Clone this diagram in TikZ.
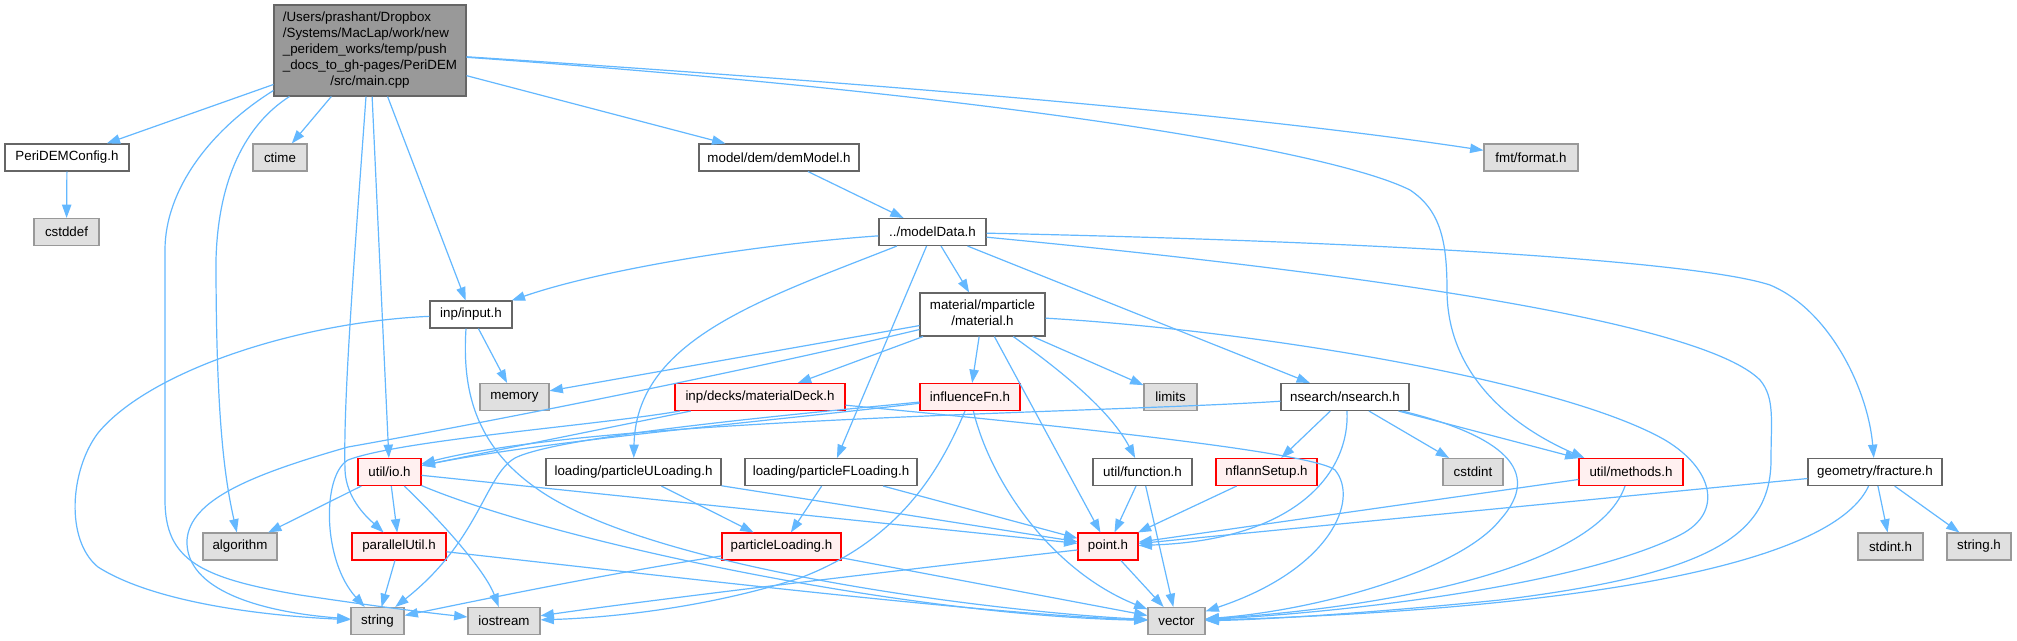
\documentclass[tikz,border=0pt]{standalone}
\usepackage{fontspec}
\setmainfont{Liberation Sans}
\usetikzlibrary{arrows.meta,calc}
\definecolor{edgec}{HTML}{63B8FF}
\definecolor{bordc}{HTML}{666666}
\definecolor{greyb}{HTML}{999999}
\definecolor{greyf}{HTML}{E0E0E0}
\definecolor{mainf}{HTML}{999999}
\definecolor{redf}{HTML}{FFF0F0}
\definecolor{redb}{HTML}{FF0000}
\begin{document}
\begin{tikzpicture}[x=0.75pt,y=-0.75pt,
  box/.style={rectangle, draw, line width=0.8pt, inner sep=0pt, minimum height=27*0.75pt, font=\fontsize{10}{12}\selectfont, text=black},
  wbox/.style={box, draw=bordc, fill=white},
  gbox/.style={box, draw=greyb, fill=greyf},
  rbox/.style={box, draw=redb, fill=redf},
  bw/.style={minimum width=#1*0.75pt},
  dep/.style={draw=edgec, line width=0.9pt, -{Triangle[length=10pt,width=7pt]}}]
\fill[white] (0,0) rectangle (2017,640);
\useasboundingbox (0,0) rectangle (2017,640);

% ---------- nodes ----------
\node[box, draw=bordc, fill=mainf, bw=192, minimum height=91*0.75pt] (main) at (370,50.5)
  {\begin{tabular}{@{}l@{}}/Users/prashant/Dropbox\\/Systems/MacLap/work/new\\\_peridem\_works/temp/push\\\_docs\_to\_gh-pages/PeriDEM\\\multicolumn{1}{@{}c@{}}{/src/main.cpp}\end{tabular}};
\node[wbox, bw=124] (peri) at (67,157.5) {PeriDEMConfig.h};
\node[gbox, bw=54] (ctime) at (280,157.5) {ctime};
\node[wbox, bw=160] (dem) at (779,157.5) {model/dem/demModel.h};
\node[gbox, bw=94] (fmt) at (1531,157.5) {fmt/format.h};
\node[gbox, bw=65] (cstddef) at (66.5,232) {cstddef};
\node[wbox, bw=107] (mdata) at (932.5,232) {../modelData.h};
\node[wbox, bw=82] (input) at (471,314.5) {inp/input.h};
\node[wbox, bw=125, minimum height=43*0.75pt] (material) at (982.5,314.5)
  {\begin{tabular}{@{}c@{}}material/mparticle\\/material.h\end{tabular}};
\node[gbox, bw=69] (memory) at (514.5,397) {memory};
\node[rbox, bw=170] (mdeck) at (760,397) {inp/decks/materialDeck.h};
\node[rbox, bw=100] (infl) at (970,397) {influenceFn.h};
\node[gbox, bw=53] (limits) at (1170.5,397) {limits};
\node[wbox, bw=128] (nsearch) at (1345,397) {nsearch/nsearch.h};
\node[rbox, bw=63] (io) at (389.5,472) {util/io.h};
\node[wbox, bw=175] (puload) at (633.5,472) {loading/particleULoading.h};
\node[wbox, bw=172] (pfload) at (831,472) {loading/particleFLoading.h};
\node[wbox, bw=99] (func) at (1142.5,472) {util/function.h};
\node[rbox, bw=101] (nflann) at (1266.5,472) {nflannSetup.h};
\node[gbox, bw=60] (cstdint) at (1473,472) {cstdint};
\node[rbox, bw=104] (methods) at (1631,472) {util/methods.h};
\node[wbox, bw=134] (fract) at (1875,472) {geometry/fracture.h};
\node[gbox, bw=74] (algo) at (240,546.5) {algorithm};
\node[rbox, bw=94] (par) at (399,546.5) {parallelUtil.h};
\node[rbox, bw=119] (pload) at (781.5,546.5) {particleLoading.h};
\node[rbox, bw=60] (point) at (1108,546.5) {point.h};
\node[gbox, bw=65] (stdint) at (1890.5,546.5) {stdint.h};
\node[gbox, bw=64] (stringh) at (1979,546.5) {string.h};
\node[gbox, bw=53] (string) at (377.5,621) {string};
\node[gbox, bw=72] (iostream) at (504,621) {iostream};
\node[gbox, bw=57] (vector) at (1176.5,621) {vector};

% ---------- edges from main ----------
\draw[dep] (main) -- (peri);
\draw[dep] (main) -- (ctime);
\draw[dep] (main) -- (dem);
\draw[dep] (main) .. controls (900,85) and (1250,115) .. (fmt);
\draw[dep] (main) .. controls (1000,95) and (1330,150) .. (1410,190)
   .. controls (1440,210) and (1447,240) .. (1447,290)
   .. controls (1447,380) and (1520,430) .. ($(methods.north west)+(6,0)$);
\draw[dep] (main) -- (input);
\draw[dep] (main) -- (io);
\draw[dep] ($(main.south)+(-4,0)$) .. controls (355,250) and (343,400) .. (345,470)
   .. controls (346,500) and (370,520) .. (par);
\draw[dep] ($(main.south west)+(16,0)$) .. controls (245,125) and (218,180) .. (216,260)
   .. controls (216,420) and (225,480) .. (algo);
\draw[dep] ($(main.west)+(0,40)$) .. controls (210,130) and (165,190) .. (165,250) -- (165,500)
   .. controls (165,560) and (200,578) .. (300,595)
   .. controls (380,607) and (430,613) .. ($(iostream.west)+(0,-4)$);

\draw[dep] (peri) -- (cstddef);
\draw[dep] (dem) -- (mdata);

% ---------- modelData ----------
\draw[dep] (mdata) .. controls (750,245) and (600,270) .. (input);
\draw[dep] (mdata) .. controls (760,300) and (636,340) .. (puload);
\draw[dep] (mdata) -- (pfload);
\draw[dep] (mdata) -- (material);
\draw[dep] (mdata) -- (nsearch);
\draw[dep] (mdata) .. controls (1400,242) and (1700,262) .. (1770,285)
   .. controls (1830,310) and (1868,390) .. (fract);
\draw[dep] (mdata) .. controls (1350,272) and (1700,320) .. (1760,380)
   .. controls (1775,398) and (1771,420) .. (1771,460)
   .. controls (1771,540) and (1700,575) .. (1500,600)
   .. controls (1350,615) and (1250,620) .. (vector);

% ---------- input ----------
\draw[dep] (input) .. controls (300,322) and (150,370) .. (98,433)
   .. controls (70,470) and (65,540) .. (98,567)
   .. controls (150,600) and (250,615) .. (string);
\draw[dep] (input) -- (memory);
\draw[dep] ($(input.south)+(-5,0)$) .. controls (462,390) and (475,445) .. (536,488)
   .. controls (650,570) and (1000,612) .. (vector);

% ---------- material ----------
\draw[dep] (material) -- (memory);
\draw[dep] (material) .. controls (750,370) and (500,420) .. (348,447)
   .. controls (250,475) and (190,500) .. (187,540)
   .. controls (185,590) and (260,612) .. (string);
\draw[dep] (material) -- (mdeck);
\draw[dep] (material) -- (infl);
\draw[dep] (material) -- (point);
\draw[dep] (material) .. controls (1060,370) and (1110,410) .. (func);
\draw[dep] (material) -- (limits);
\draw[dep] (material) .. controls (1250,330) and (1560,380) .. (1665,440)
   .. controls (1712,468) and (1725,512) .. (1680,535)
   .. controls (1580,585) and (1350,612) .. (vector);

% ---------- materialDeck ----------
\draw[dep] (mdeck) -- (io);
\draw[dep] (mdeck) .. controls (600,425) and (400,440) .. (348,460)
   .. controls (322,475) and (322,560) .. (string);
\draw[dep] (mdeck) .. controls (1000,420) and (1310,450) .. (1335,470)
   .. controls (1360,500) and (1330,570) .. (vector);

% ---------- influenceFn ----------
\draw[dep] (infl) .. controls (800,418) and (550,440) .. (io);
\draw[dep] (infl) .. controls (820,412) and (560,435) .. (515,458)
   .. controls (485,475) and (480,540) .. (string);
\draw[dep] ($(infl.south)+(-5,0)$) .. controls (940,470) and (900,540) .. (800,578)
   .. controls (700,610) and (600,618) .. (iostream);
\draw[dep] (infl) .. controls (990,480) and (1050,570) .. (vector);

% ---------- nsearch ----------
\draw[dep] (nsearch) .. controls (1100,413) and (600,418) .. (io);
\draw[dep] (nsearch) -- (nflann);
\draw[dep] ($(nsearch.south)+(2,0)$) .. controls (1350,470) and (1300,540) .. (point);
\draw[dep] (nsearch) -- (cstdint);
\draw[dep] (nsearch) -- (methods);
\draw[dep] (nsearch) .. controls (1500,435) and (1545,470) .. (1500,520)
   .. controls (1460,570) and (1320,610) .. (vector);

% ---------- row 5 ----------
\draw[dep] (puload) -- (pload);
\draw[dep] (puload) -- (point);
\draw[dep] (pfload) -- (pload);
\draw[dep] (pfload) -- (point);
\draw[dep] (io) -- (algo);
\draw[dep] (io) -- (par);
\draw[dep] (io) .. controls (440,520) and (485,570) .. (iostream);
\draw[dep] (io) .. controls (550,540) and (900,615) .. (vector);
\draw[dep] (io) -- (point);
\draw[dep] (func) -- (point);
\draw[dep] (func) -- (vector);
\draw[dep] (nflann) -- (point);
\draw[dep] (methods) -- (point);
\draw[dep] ($(methods.south)+(-6,0)$) .. controls (1600,560) and (1420,605) .. (vector);
\draw[dep] (fract) -- (point);
\draw[dep] (fract) -- (stdint);
\draw[dep] (fract) -- (stringh);
\draw[dep] (fract) .. controls (1830,570) and (1550,610) .. (vector);

% ---------- row 6 ----------
\draw[dep] (par) -- (string);
\draw[dep] (par) .. controls (700,580) and (1000,615) .. (vector);
\draw[dep] (pload) .. controls (600,575) and (480,600) .. (string);
\draw[dep] (pload) -- (vector);
\draw[dep] (point) .. controls (900,570) and (650,600) .. (iostream);
\draw[dep] (point) -- (vector);
\end{tikzpicture}
\end{document}
